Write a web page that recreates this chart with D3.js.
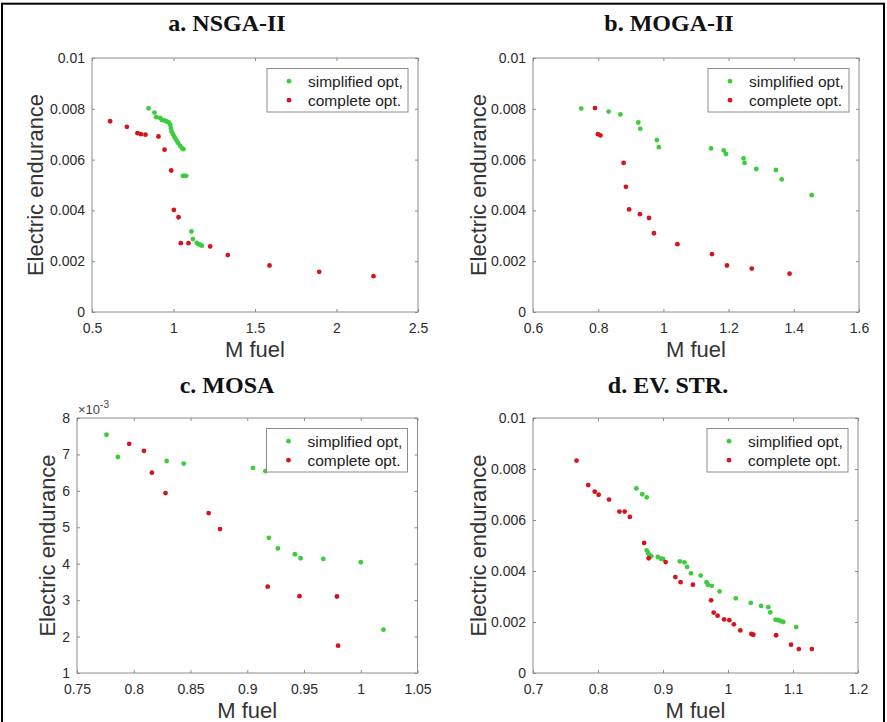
<!DOCTYPE html>
<html>
<head>
<meta charset="utf-8">
<script src="https://cdn.jsdelivr.net/npm/d3@7"></script>
<style>
  body { margin: 0; background: #fff; }
  svg { display: block; }
  .tick text { font-family: "Liberation Sans", Arial, sans-serif; font-size: 14px; fill: #2b2b2b; }
  .tick line { stroke: #8c8c8c; }
  .domain { display: none; }
  .title { font-family: "Liberation Serif", "Times New Roman", serif; font-weight: bold; font-size: 24px; fill: #111; }
  .alabel { font-family: "Liberation Sans", Arial, sans-serif; font-size: 22px; fill: #333; }
  .leg text { font-family: "Liberation Sans", Arial, sans-serif; font-size: 15.5px; fill: #222; }
</style>
</head>
<body>
<div id="chart"></div>
<script>
const d3 = window.d3;
const W = 887, H = 722;

const GREEN = '#3ccc3c', RED = '#d4141e';

// panel a: NSGA-II
const aSimplified = [
  [0.847, 0.00802], [0.883, 0.00785], [0.894, 0.00767], [0.918, 0.00764], [0.928, 0.00756],
  [0.945, 0.00754], [0.959, 0.00750], [0.971, 0.00746], [0.980, 0.00737], [0.984, 0.00724],
  [0.988, 0.00711], [0.996, 0.00701], [1.004, 0.00691], [1.012, 0.00682], [1.020, 0.00674],
  [1.029, 0.00665], [1.041, 0.00654], [1.053, 0.00645], [1.061, 0.00641],
  [1.058, 0.00536], [1.068, 0.00536], [1.078, 0.00536],
  [1.110, 0.00317], [1.119, 0.00287], [1.143, 0.00272], [1.153, 0.00267], [1.164, 0.00265], [1.174, 0.00261]
];
const aComplete = [
  [0.611, 0.00751], [0.714, 0.00729], [0.779, 0.00704], [0.800, 0.00700], [0.828, 0.00698],
  [0.908, 0.00691], [0.945, 0.00639], [0.986, 0.00557], [1.002, 0.00402], [1.031, 0.00373],
  [1.045, 0.00271], [1.092, 0.00271], [1.225, 0.00258], [1.333, 0.00224], [1.589, 0.00183],
  [1.894, 0.00158], [2.227, 0.00141]
];

// panel b: MOGA-II
const bSimplified = [
  [0.748, 0.00801], [0.832, 0.00789], [0.868, 0.00778], [0.923, 0.00746], [0.929, 0.00721],
  [0.980, 0.00677], [0.986, 0.00649], [1.146, 0.00644], [1.185, 0.00636], [1.192, 0.00622],
  [1.246, 0.00605], [1.249, 0.00587], [1.285, 0.00563], [1.345, 0.00559], [1.363, 0.00522],
  [1.455, 0.00460]
];
const bComplete = [
  [0.790, 0.00803], [0.799, 0.00700], [0.807, 0.00695], [0.878, 0.00587], [0.885, 0.00493],
  [0.895, 0.00404], [0.928, 0.00385], [0.956, 0.00370], [0.971, 0.00310], [1.043, 0.00267],
  [1.149, 0.00228], [1.195, 0.00183], [1.271, 0.00171], [1.387, 0.00151]
];

// panel c: MOSA
const cSimplified = [
  [0.776, 0.00754], [0.786, 0.00693], [0.829, 0.00682], [0.844, 0.00675], [0.905, 0.00663],
  [0.916, 0.00654], [0.919, 0.00471], [0.927, 0.00442], [0.942, 0.00426], [0.947, 0.00415],
  [0.967, 0.00413], [1.000, 0.00404], [1.020, 0.00219]
];
const cComplete = [
  [0.796, 0.00729], [0.809, 0.00710], [0.816, 0.00650], [0.828, 0.00594], [0.866, 0.00539],
  [0.876, 0.00495], [0.918, 0.00337], [0.946, 0.00311], [0.979, 0.00310], [0.980, 0.00175]
];

// panel d: EV. STR.
const dSimplified = [
  [0.859, 0.00724], [0.868, 0.00701], [0.875, 0.00689],
  [0.875, 0.00481], [0.877, 0.00471], [0.879, 0.00463], [0.882, 0.00458], [0.892, 0.00455],
  [0.897, 0.00448], [0.900, 0.00447], [0.926, 0.00438], [0.933, 0.00434], [0.937, 0.00416],
  [0.943, 0.00391], [0.958, 0.00382], [0.967, 0.00356], [0.969, 0.00346], [0.975, 0.00342],
  [0.987, 0.00320], [1.012, 0.00293], [1.035, 0.00275], [1.051, 0.00263], [1.062, 0.00258],
  [1.065, 0.00238], [1.073, 0.00209], [1.077, 0.00207], [1.081, 0.00204], [1.085, 0.00200],
  [1.105, 0.00180]
];
const dComplete = [
  [0.767, 0.00833], [0.785, 0.00737], [0.795, 0.00711], [0.801, 0.00699], [0.817, 0.00680],
  [0.833, 0.00633], [0.841, 0.00633], [0.849, 0.00612], [0.871, 0.00510], [0.878, 0.00450],
  [0.904, 0.00435], [0.919, 0.00376], [0.927, 0.00356], [0.946, 0.00346], [0.974, 0.00285],
  [0.978, 0.00237], [0.984, 0.00225], [0.994, 0.00210], [1.002, 0.00207], [1.009, 0.00191],
  [1.019, 0.00167], [1.036, 0.00153], [1.039, 0.00150], [1.074, 0.00148], [1.097, 0.00111],
  [1.109, 0.00094], [1.129, 0.00094]
];

const aXTicks = [0.5, 1, 1.5, 2, 2.5];
const bXTicks = [0.6, 0.8, 1, 1.2, 1.4, 1.6];
const cXTicks = [0.75, 0.8, 0.85, 0.9, 0.95, 1, 1.05];
const dXTicks = [0.7, 0.8, 0.9, 1, 1.1, 1.2];
const endurTicks = [0, 0.002, 0.004, 0.006, 0.008, 0.01];
const cYTicks = [0.001, 0.002, 0.003, 0.004, 0.005, 0.006, 0.007, 0.008];

const titles = ['a. NSGA-II', 'b. MOGA-II', 'c. MOSA', 'd. EV. STR.'];
const legendLabels = ['simplified opt,', 'complete opt.'];
const xLabel = 'M fuel', yLabel = 'Electric endurance';

const panels = [
  { title: titles[0], box: [92, 58, 418, 312], tx: 227, ty: 31, yl: 43,
    xTicks: aXTicks, yTicks: endurTicks, yFmt: String, green: aSimplified, red: aComplete },
  { title: titles[1], box: [533, 58, 859, 312], tx: 669, ty: 31, yl: 486,
    xTicks: bXTicks, yTicks: endurTicks, yFmt: String, green: bSimplified, red: bComplete },
  { title: titles[2], box: [77, 418, 417.5, 673], tx: 227, ty: 393, yl: 55,
    xTicks: cXTicks, yTicks: cYTicks, yFmt: d => String(Math.round(d * 1000)), exp: true,
    green: cSimplified, red: cComplete },
  { title: titles[3], box: [533, 418, 858, 673], tx: 668, ty: 393, yl: 486,
    xTicks: dXTicks, yTicks: endurTicks, yFmt: String, green: dSimplified, red: dComplete },
];

const svg = d3.select('#chart').append('svg')
  .attr('width', W).attr('height', H).attr('viewBox', `0 0 ${W} ${H}`);

svg.append('rect').attr('x', 2).attr('y', 3.7).attr('width', 882).attr('height', 760)
  .attr('fill', 'none').attr('stroke', '#000').attr('stroke-width', 2);

for (const p of panels) {
  const [x0, y0, x1, y1] = p.box;
  const w = x1 - x0, h = y1 - y0;
  const x = d3.scaleLinear().domain(d3.extent(p.xTicks)).range([0, w]);
  const y = d3.scaleLinear().domain(d3.extent(p.yTicks)).range([h, 0]);
  const g = svg.append('g').attr('transform', `translate(${x0},${y0})`);

  g.append('rect').attr('width', w).attr('height', h)
    .attr('fill', '#fff').attr('stroke', '#8c8c8c').attr('stroke-width', 1);

  // MATLAB style inward ticks on all four sides
  g.append('g').attr('transform', `translate(0,${h})`)
    .call(d3.axisBottom(x).tickValues(p.xTicks).tickSize(-3).tickPadding(11).tickFormat(String));
  g.append('g')
    .call(d3.axisTop(x).tickValues(p.xTicks).tickSize(-3).tickFormat(''));
  g.append('g')
    .call(d3.axisLeft(y).tickValues(p.yTicks).tickSize(-3).tickPadding(7).tickFormat(p.yFmt));
  g.append('g').attr('transform', `translate(${w},0)`)
    .call(d3.axisRight(y).tickValues(p.yTicks).tickSize(-3).tickFormat(''));

  if (p.exp) {
    const t = g.append('text').attr('x', 1).attr('y', -4)
      .style('font-family', '"Liberation Sans", Arial, sans-serif').style('font-size', '13px').attr('fill', '#444');
    t.append('tspan').text('\u00d710');
    t.append('tspan').attr('dy', -6).style('font-size', '10px').text('-3');
  }

  g.append('g').selectAll('circle').data(p.green).join('circle')
    .attr('cx', d => x(d[0])).attr('cy', d => y(d[1])).attr('r', 2.4).attr('fill', GREEN);
  g.append('g').selectAll('circle').data(p.red).join('circle')
    .attr('cx', d => x(d[0])).attr('cy', d => y(d[1])).attr('r', 2.4).attr('fill', RED);

  // legend, top right
  const leg = g.append('g').attr('class', 'leg').attr('transform', `translate(${w - 151},${10.5})`);
  leg.append('rect').attr('width', 141).attr('height', 43.5)
    .attr('fill', '#fff').attr('stroke', '#8c8c8c');
  [GREEN, RED].forEach((c, i) => {
    leg.append('circle').attr('cx', 22).attr('cy', 12.7 + i * 19).attr('r', 2.4).attr('fill', c);
    leg.append('text').attr('x', 41).attr('y', 18.5 + i * 19).text(legendLabels[i]);
  });

  svg.append('text').attr('class', 'title').attr('x', p.tx).attr('y', p.ty)
    .attr('text-anchor', 'middle').text(p.title);
  svg.append('text').attr('class', 'alabel').attr('x', (x0 + x1) / 2).attr('y', y1 + 45)
    .attr('text-anchor', 'middle').text(xLabel);
  svg.append('text').attr('class', 'alabel')
    .attr('transform', `translate(${p.yl},${(y0 + y1) / 2}) rotate(-90)`)
    .attr('text-anchor', 'middle').text(yLabel);
}
</script>
</body>
</html>
